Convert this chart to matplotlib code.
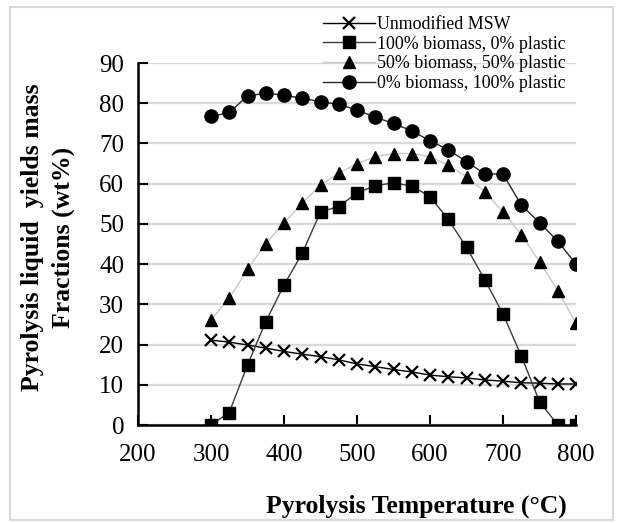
import matplotlib
matplotlib.use("Agg")
import matplotlib.pyplot as plt
from matplotlib.patches import Rectangle

temps = [300, 325, 350, 375, 400, 425, 450, 475, 500, 525, 550,
         575, 600, 625, 650, 675, 700, 725, 750, 775, 800]
msw = [21.1, 20.6, 19.9, 19.1, 18.3, 17.6, 17.0, 16.2, 15.2, 14.5, 13.8,
       13.2, 12.4, 12.0, 11.7, 11.2, 10.9, 10.5, 10.4, 10.2, 10.2]
bio100 = [0.0, 3.1, 14.9, 25.7, 34.8, 42.7, 53.0, 54.3, 57.7, 59.5, 60.2,
          59.4, 56.8, 51.1, 44.2, 36.1, 27.6, 17.2, 5.8, 0.0, 0.0]
bio50 = [26.1, 31.5, 38.7, 45.1, 50.3, 55.1, 59.7, 62.6, 65.0, 66.7, 67.5,
         67.5, 66.7, 64.6, 61.7, 58.0, 53.0, 47.3, 40.6, 33.4, 25.3]
bio0 = [76.7, 77.7, 81.8, 82.5, 82.0, 81.2, 80.4, 79.7, 78.3, 76.5, 75.0,
        73.1, 70.7, 68.4, 65.5, 62.4, 62.4, 54.7, 50.3, 45.7, 40.0]
labels = ["Unmodified MSW", "100% biomass, 0% plastic",
          "50% biomass, 50% plastic", "0% biomass, 100% plastic"]
xticks = [200, 300, 400, 500, 600, 700, 800]
yticks = [0, 10, 20, 30, 40, 50, 60, 70, 80, 90]

serif = ["Liberation Serif", "DejaVu Serif"]
plt.rcParams['font.family'] = serif

fig = plt.figure(figsize=(6.18, 5.23), dpi=100)
fig.patches.append(Rectangle((10/618, 1 - 520/523), 603/618, 513/523,
                             transform=fig.transFigure, fill=False,
                             edgecolor="#d9d9d9", linewidth=1.5))
ax = fig.add_axes([138/618, 1 - 425/523, (576 - 138)/618, (425 - 63)/523])

ax.plot(temps, msw, color="black", linewidth=1.0, marker="x",
        markersize=8, markeredgewidth=1.6, markeredgecolor="black",
        label=labels[0], zorder=3)
ax.plot(temps, bio100, color="#3a3a3a", linewidth=1.0, marker="s",
        markersize=8, markerfacecolor="black", markeredgecolor="black",
        label=labels[1], zorder=3)
ax.plot(temps, bio50, color="#c8c8c8", linewidth=1.0, marker="^",
        markersize=9, markerfacecolor="black", markeredgecolor="black",
        label=labels[2], zorder=3)
ax.plot(temps, bio0, color="#262626", linewidth=1.0, marker="o",
        markersize=9.5, markerfacecolor="black", markeredgecolor="black",
        label=labels[3], zorder=3)

ax.set_xlim(200, 800)
ax.set_ylim(0, 90)
ax.set_xticks(xticks)
ax.set_yticks(yticks)
ax.grid(axis="y", color="#d9d9d9", linewidth=1.6, zorder=0)
ax.set_axisbelow(True)
for s in ["top", "right"]:
    ax.spines[s].set_visible(False)
for s in ["left", "bottom"]:
    ax.spines[s].set_linewidth(1.8)
    ax.spines[s].set_color("black")
ax.tick_params(axis="both", direction="in", length=7, width=1.5,
               labelsize=18, colors="black")
ax.tick_params(axis="x", pad=14)
ax.tick_params(axis="y", pad=10)
for lab in ax.get_xticklabels() + ax.get_yticklabels():
    lab.set_fontfamily(serif)

leg = ax.legend(loc="upper left", bbox_to_anchor=(323/618, 1 - 16/523),
                bbox_transform=fig.transFigure, frameon=False,
                fontsize=12.9, borderpad=0, labelspacing=0.15,
                handlelength=2.9, handletextpad=0.1, borderaxespad=0)

fig.text(416/618, 1 - 506/523, "Pyrolysis Temperature (°C)",
         fontsize=18.5, fontweight="bold", ha="center", va="center")
fig.text(48/618, 1 - 237/523, "Pyrolysis liquid  yields mass\nFractions (wt%)",
         fontsize=18.5, fontweight="bold", ha="center", va="center",
         rotation=90, multialignment="center", linespacing=1.4)

fig.savefig("out.png", dpi=100)
